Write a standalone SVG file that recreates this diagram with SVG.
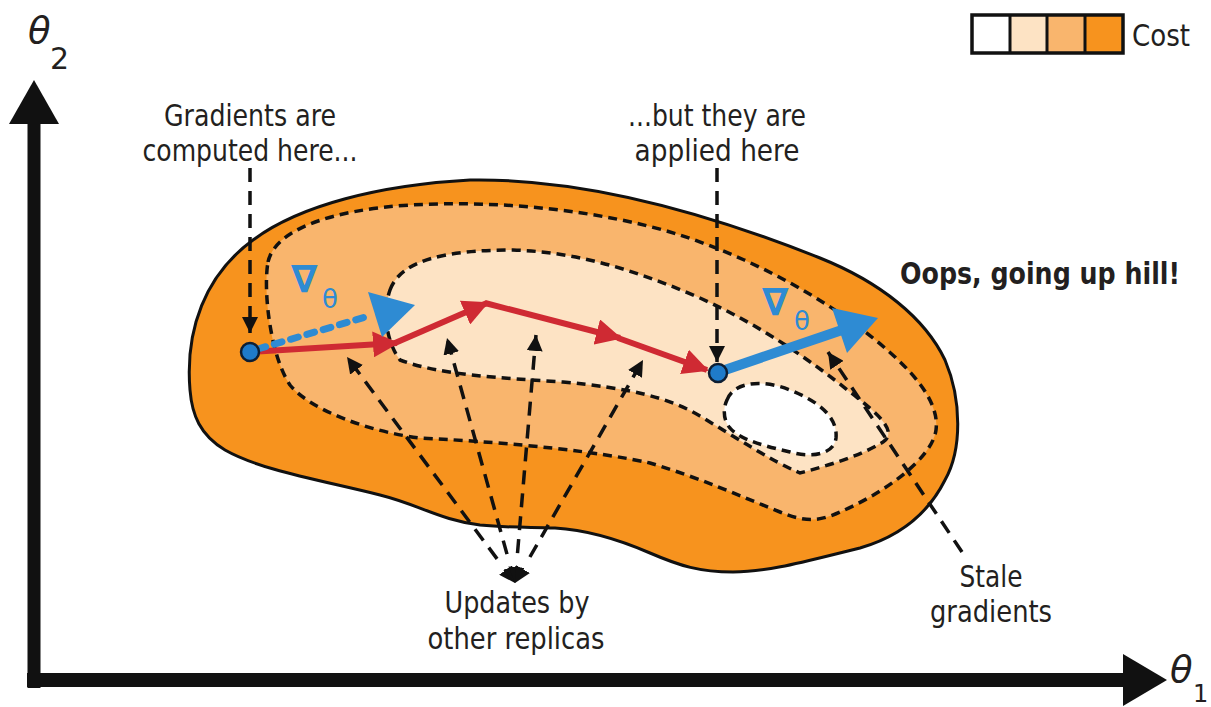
<svg xmlns="http://www.w3.org/2000/svg" width="1211" height="707" viewBox="0 0 1211 707">
<style>
.lbl{font-family:"DejaVu Sans Condensed","Liberation Sans Narrow","Liberation Sans",sans-serif;font-size:30px;fill:#231f20;text-anchor:middle}
.math{font-family:"DejaVu Sans","Liberation Sans",sans-serif;fill:#231f20}
.grad{font-family:"DejaVu Sans","Liberation Sans",sans-serif;fill:#2e8bd3}
.cont{stroke:#111;stroke-width:3.5;stroke-dasharray:9 6}
.lv2{fill:#f9b56d}
.lv3{fill:#fde3c4}
.lv4{fill:#ffffff}
.lead{fill:none;stroke:#111;stroke-width:3.5;stroke-dasharray:14 9}
.red{fill:none;stroke:#cf2a33;stroke-width:6}
.dot{fill:#1f7bc9;stroke:#0d1e33;stroke-width:2.5}
</style>
<defs>
<marker id="ah" viewBox="0 0 16 16" refX="16" refY="8" markerWidth="16" markerHeight="16" markerUnits="userSpaceOnUse" orient="auto-start-reverse"><path d="M0,0 L16,8 L0,16 z" fill="#111"/></marker>
<marker id="rh" viewBox="0 0 26 26" refX="24" refY="13" markerWidth="26" markerHeight="26" markerUnits="userSpaceOnUse" orient="auto"><path d="M0,0 L26,13 L0,26 z" fill="#cf2a33"/></marker>
</defs>
<rect width="1211" height="707" fill="#fff"/>

<g id="axes">
<line x1="34" y1="688" x2="34" y2="118" stroke="#111" stroke-width="13"/>
<polygon points="34,80 9,124 59,124" fill="#111"/>
<line x1="27" y1="680" x2="1126" y2="680" stroke="#111" stroke-width="14"/>
<polygon points="1167,680 1123,654 1123,706" fill="#111"/>
<text class="math" x="28" y="43" font-size="37" font-style="italic">θ</text>
<text class="math" x="50" y="69" font-size="30">2</text>
<text class="math" x="1170" y="682" font-size="37" font-style="italic">θ</text>
<text class="math" x="1193" y="702" font-size="24">1</text>
</g>

<g id="legend">
<rect x="972" y="15" width="38" height="38" fill="#ffffff"/>
<rect x="1010" y="15" width="37" height="38" fill="#fde3c4"/>
<rect x="1047" y="15" width="38" height="38" fill="#f9b56d"/>
<rect x="1085" y="15" width="38" height="38" fill="#f7931e"/>
<rect x="972" y="15" width="151" height="38" fill="none" stroke="#111" stroke-width="3.5"/>
<line x1="1010" y1="15" x2="1010" y2="53" stroke="#111" stroke-width="3"/>
<line x1="1047" y1="15" x2="1047" y2="53" stroke="#111" stroke-width="3"/>
<line x1="1085" y1="15" x2="1085" y2="53" stroke="#111" stroke-width="3"/>
<text class="lbl" x="1161" y="46" textLength="58" lengthAdjust="spacingAndGlyphs">Cost</text>
</g>

<g id="cost-surface">
<path d="M190,390 C185,330 205,275 253,240 C300,205 380,185 470,180 C580,178 700,210 820,258 C880,282 925,318 945,360 C962,400 962,450 945,480 C930,510 905,535 860,548 C810,560 770,572 733,572 C700,572 680,566 650,553 C620,540 590,530 555,528 C530,527 510,528 480,525 C440,520 420,505 380,495 C320,480 260,470 225,450 C200,435 192,415 190,390 Z" fill="#f7931e" stroke="#111" stroke-width="3"/>
<path class="cont lv2" d="M268,262 C275,230 330,210 410,205 C500,200 600,210 680,235 C750,258 820,295 873,338 C910,368 940,400 936,430 C932,460 880,495 840,512 C818,522 805,522 780,512 C740,496 700,478 650,463 C600,452 520,443 420,438 C370,432 310,410 290,385 C270,355 263,290 268,262 Z"/>
<path class="cont lv3" d="M390,290 C400,262 440,250 513,250 C580,252 640,272 700,298 C760,325 810,360 850,392 C880,415 898,432 883,442 C860,456 830,465 800,473 C770,460 740,440 700,416 C670,398 630,388 563,382 C500,378 440,375 400,360 C385,340 383,310 390,290 Z"/>
<path class="cont lv4" d="M727,400 C733,383 760,378 790,390 C815,400 838,415 836,438 C834,455 810,458 790,452 C765,446 740,440 730,428 C723,420 723,408 727,400 Z"/>
</g>

<g id="connectors">
<line class="lead" x1="250" y1="168" x2="250" y2="333" marker-end="url(#ah)"/>
<line class="lead" x1="717" y1="168" x2="717" y2="362" marker-end="url(#ah)"/>
<path class="lead" d="M962,552 L828,352" marker-end="url(#ah)"/>
<path class="lead" d="M497.1,558.9 L347,357" marker-end="url(#ah)"/>
<path class="lead" d="M507,554.1 L447,338" marker-end="url(#ah)"/>
<path class="lead" d="M517.5,553.1 L536,335" marker-end="url(#ah)"/>
<path class="lead" d="M529.9,557 L643,360" marker-end="url(#ah)"/>
<path d="M515,583 L507,572" fill="none" stroke="none" marker-start="url(#ah)"/>
<path d="M515,583 L511.5,570.5" fill="none" stroke="none" marker-start="url(#ah)"/>
<path d="M515,583 L516.1,570.1" fill="none" stroke="none" marker-start="url(#ah)"/>
<path d="M515,583 L521.5,571.7" fill="none" stroke="none" marker-start="url(#ah)"/>
<line class="red" x1="250" y1="352" x2="397" y2="343" marker-end="url(#rh)"/>
<line class="red" x1="395" y1="343" x2="487" y2="303" marker-end="url(#rh)"/>
<line class="red" x1="485" y1="303" x2="620" y2="338" marker-end="url(#rh)"/>
<line class="red" x1="618" y1="338" x2="707" y2="370" marker-end="url(#rh)"/>
<line x1="258" y1="349" x2="372" y2="315" stroke="#2e8bd3" stroke-width="7" stroke-linecap="round" stroke-dasharray="8 9"/>
<polygon points="368,292 415,305 382,337" fill="#2e8bd3"/>
<line x1="722" y1="371" x2="842" y2="330" stroke="#2e8bd3" stroke-width="10"/>
<polygon points="832,308 878,318 847,353" fill="#2e8bd3"/>
</g>

<g id="dot-computed"><circle class="dot" cx="250" cy="352" r="9"/></g>
<g id="dot-applied"><circle class="dot" cx="718" cy="373" r="9"/></g>

<g id="grad-1">
<text class="grad" x="291" y="292" font-size="38" font-weight="bold">∇</text>
<text class="grad" x="322" y="308" font-size="26">θ</text>
</g>
<g id="grad-2">
<text class="grad" x="762" y="315" font-size="38" font-weight="bold">∇</text>
<text class="grad" x="794" y="330" font-size="26">θ</text>
</g>

<g id="label-computed">
<text class="lbl" x="250" y="126" textLength="172" lengthAdjust="spacingAndGlyphs">Gradients are</text>
<text class="lbl" x="250" y="161" textLength="215" lengthAdjust="spacingAndGlyphs">computed here...</text>
</g>
<g id="label-applied">
<text class="lbl" x="717" y="126" textLength="178" lengthAdjust="spacingAndGlyphs">...but they are</text>
<text class="lbl" x="717" y="161" textLength="165" lengthAdjust="spacingAndGlyphs">applied here</text>
</g>
<g id="label-oops">
<text class="lbl" x="900" y="284" font-size="29" font-weight="bold" style="text-anchor:start" textLength="280" lengthAdjust="spacingAndGlyphs">Oops, going up hill!</text>
</g>
<g id="label-updates">
<text class="lbl" x="517" y="613" textLength="145" lengthAdjust="spacingAndGlyphs">Updates by</text>
<text class="lbl" x="516" y="649" textLength="177" lengthAdjust="spacingAndGlyphs">other replicas</text>
</g>
<g id="label-stale">
<text class="lbl" x="991" y="587" textLength="63" lengthAdjust="spacingAndGlyphs">Stale</text>
<text class="lbl" x="991" y="622" textLength="122" lengthAdjust="spacingAndGlyphs">gradients</text>
</g>
</svg>
